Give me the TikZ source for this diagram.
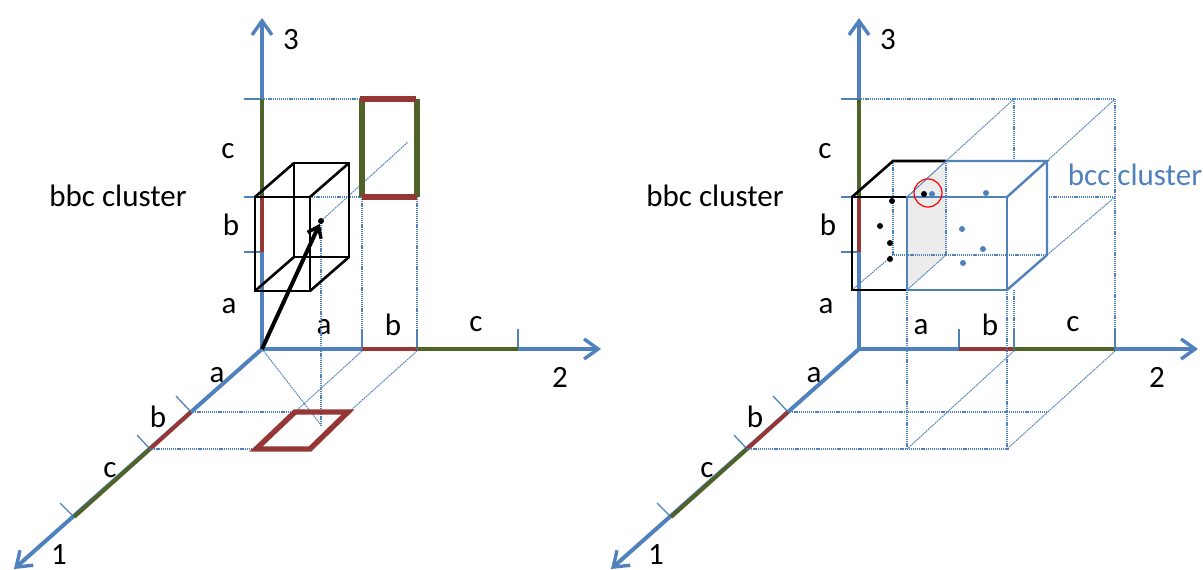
\documentclass[tikz,border=0pt]{standalone}
\usepackage{fontspec}
\setmainfont{Carlito}
\usepackage{xcolor}
\usetikzlibrary{arrows.meta}
\definecolor{axisblue}{RGB}{79,129,189}
\definecolor{brick}{RGB}{149,55,53}
\definecolor{olive}{RGB}{79,98,40}
\tikzset{
  axisline/.style={line width=4pt, axisblue, -{Straight Barb[length=14pt, width=20pt, line width=3.4pt]}},
  ticksmall/.style={line width=1.3pt, axisblue},
  guide/.style={line width=1.2pt, axisblue, dash pattern=on 1.2pt off 0.9pt},
  guidediag/.style={line width=1pt, axisblue, dash pattern=on 1.6pt off 0.8pt},
  edgered/.style={line width=5.4pt, brick},
  edgegreen/.style={line width=5.4pt, olive},
  axisred/.style={line width=4pt, brick},
  axisgreen/.style={line width=4pt, olive},
  cellblack/.style={line width=2.6pt, black, line join=miter},
  cellblue/.style={line width=2.4pt, axisblue},
  lbl/.style={font=\fontsize{31}{31}\selectfont, inner sep=0pt},
  atom/.style={circle, fill=black, inner sep=0pt, minimum size=6pt},
  atomblue/.style={circle, fill=axisblue, inner sep=0pt, minimum size=6pt}
}
\begin{document}
\begin{tikzpicture}[x=1pt, y=-1pt]
  \useasboundingbox (0,0) rectangle (1203,570);

  % Axes, ticks and labels, the same in both panels
  \foreach \side/\dx in {l/0, r/597} {
    \begin{scope}[xshift=\dx pt]
      \draw[ticksmall] (244,99) -- (262,99);
      \draw[ticksmall] (244,197) -- (262,197);
      \draw[ticksmall] (244,252) -- (262,252);
      \draw[ticksmall] (362,329) -- (362,349);
      \draw[ticksmall] (417,329) -- (417,349);
      \draw[ticksmall] (518,329) -- (518,349);
      \draw[ticksmall] (191,412) -- (176,396);
      \draw[ticksmall] (150,449) -- (137,435);
      \draw[ticksmall] (74,517) -- (60,503);

      \draw[axisline] (262,349) -- (262,18);
      \draw[axisline] (262,349) -- (601,349);
      \draw[axisline] (262,349) -- (14,569);

      \draw[axisgreen] (262,99) -- (262,197);
      \draw[axisred] (262,197) -- (262,252);
      \draw[axisred] (362,349) -- (417,349);
      \draw[axisgreen] (417,349) -- (518,349);
      \draw[axisred] (191,412) -- (150,449);
      \draw[axisgreen] (150,449) -- (74,517);

      \node[lbl] (\side three) at (291,40) {3};
      \node[lbl] (\side two) at (560,377) {2};
      \node[lbl] (\side one) at (59,555) {1};
      \node[lbl] (\side za) at (229,306) {a};
      \node[lbl] (\side zb) at (231,225) {b};
      \node[lbl] (\side zc) at (228,151) {c};
      \node[lbl] (\side ya) at (324,327) {a};
      \node[lbl] (\side yb) at (393,325) {b};
      \node[lbl] (\side yc) at (476,324) {c};
      \node[lbl] (\side xa) at (217,375) {a};
      \node[lbl] (\side xb) at (158,417) {b};
      \node[lbl] (\side xc) at (110,470) {c};
      \node[lbl] (\side name) at (118,196) {bbc cluster};
    \end{scope}
  }

  % Left panel: guides
  \draw[guide] (262,99) -- (362,99);
  \draw[guide] (310,197) -- (362,197);
  \draw[guide] (362,197) -- (362,349);
  \draw[guide] (417,197) -- (417,349);
  \draw[guide] (321,221) -- (321,425);
  \draw[guidediag] (321,221) -- (408,142);
  \draw[guidediag] (262,349) -- (321,425);
  \draw[guidediag] (362,351) -- (295,412);
  \draw[guidediag] (417,351) -- (349,412);
  \draw[guide] (191,412) -- (295,412);
  \draw[guide] (150,449) -- (256,449);

  % Left panel: projections of the cell
  \draw[edgegreen] (362,197) -- (362,99);
  \draw[edgegreen] (417,99) -- (417,197);
  \draw[edgered] (360,99) -- (416,99);
  \draw[edgered] (362,197) -- (417,197);
  \draw[edgered, line join=miter] (295,412) -- (348,412) -- (310,449) -- (256,449) -- cycle;

  % Left panel: cell
  \draw[cellblack] (255,197) rectangle (310,291);
  \draw[cellblack] (294,163) rectangle (349,257);
  \draw[cellblack] (255,197) -- (294,163);
  \draw[cellblack] (310,197) -- (349,163);
  \draw[cellblack] (255,291) -- (294,257);
  \draw[cellblack] (310,291) -- (349,257);
  \node[atom] (latom) at (321,221) {};
  \draw[line width=4pt, -{Straight Barb[length=10pt, width=15pt, line width=3.4pt]}] (262,349) -- (latom);

  % Right panel: guides
  \draw[guide] (859,99) -- (1115,99);
  \draw[guide] (1115,99) -- (1115,349);
  \draw[guide] (1014,99) -- (1014,161);
  \draw[guide] (1014,290) -- (1014,349);
  \draw[guide] (1047,197) -- (1115,197);
  \draw[guide] (907,290) -- (907,449);
  \draw[guide] (1007,290) -- (1007,449);
  \draw[guide] (788,412) -- (1047,412);
  \draw[guide] (747,449) -- (1009,449);
  \draw[guidediag] (946,161) -- (1014,99);
  \draw[guidediag] (1047,161) -- (1115,99);
  \draw[guidediag] (1047,255) -- (1115,197);
  \draw[guidediag] (1014,351) -- (907,449);
  \draw[guidediag] (1115,351) -- (1007,449);

  % Right panel: shaded face and hidden edges
  \fill[gray!15] (907,197) -- (946,161) -- (946,255) -- (907,290) -- cycle;
  \draw[guide] (893,161) -- (893,255) -- (1047,255);
  \draw[guide] (946,161) -- (946,255);
  \draw[guidediag] (852,290) -- (893,255);
  \draw[guidediag] (907,290) -- (946,255);

  % Right panel: cells
  \draw[cellblack] (907,197) -- (852,197) -- (852,290) -- (907,290);
  \draw[cellblack] (852,197) -- (893,161) -- (946,161);
  \draw[cellblue] (907,197) rectangle (1007,290);
  \draw[cellblue] (946,161) -- (1047,161) -- (1007,197);
  \draw[cellblue] (1047,161) -- (1047,255) -- (1007,290);
  \draw[line width=1pt, axisblue] (907,197) -- (946,161);

  % Right panel: atoms
  \node[atom] (ra) at (892,201) {};
  \node[atom] (rb) at (880,226) {};
  \node[atom] (rc) at (890,243) {};
  \node[atom] (rd) at (890,259) {};
  \node[atom] (re) at (924,194) {};
  \node[atomblue] (rf) at (932,194) {};
  \node[atomblue] (rg) at (986,193) {};
  \node[atomblue] (rh) at (962,229) {};
  \node[atomblue] (ri) at (983,249) {};
  \node[atomblue] (rj) at (963,263) {};
  \node[draw=red, line width=1.2pt, circle, minimum size=28pt, inner sep=0pt] (rmark) at (928,193) {};

  \node[lbl, text=axisblue] (bcclabel) at (1135,175) {bcc cluster};
\end{tikzpicture}
\end{document}
